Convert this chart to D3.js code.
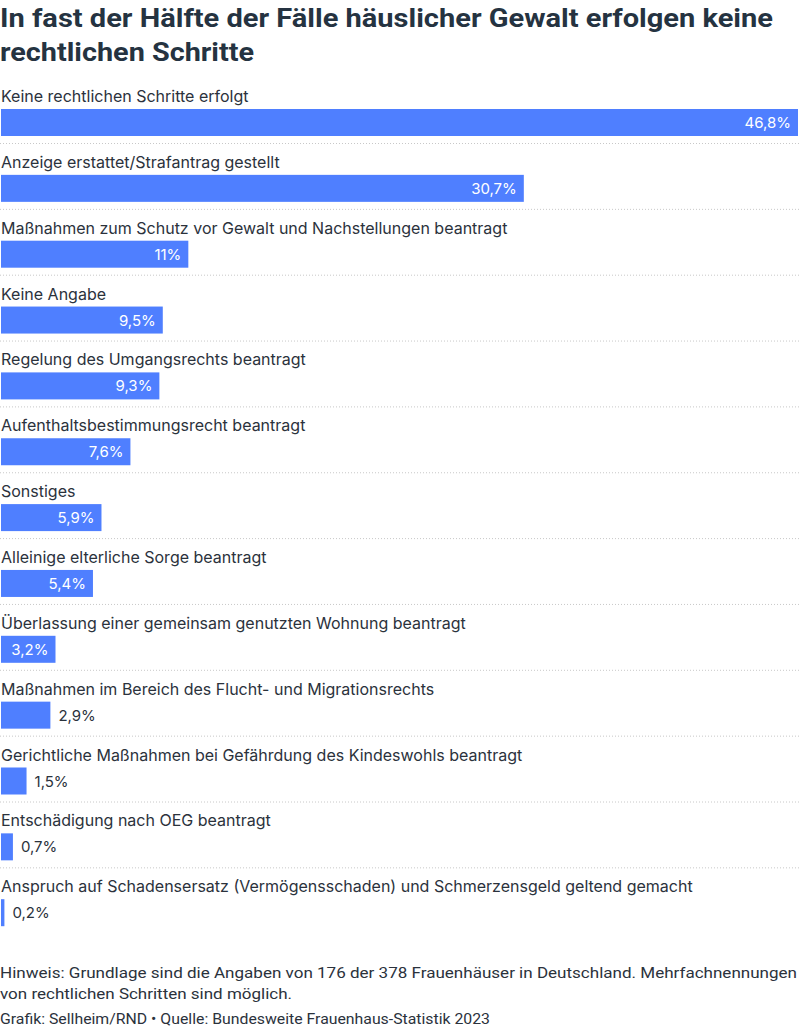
<!DOCTYPE html>
<html><head><meta charset="utf-8">
<script src="https://cdn.jsdelivr.net/npm/d3@7"></script>
<style>
html,body{margin:0;padding:0;background:#fff;}
svg{display:block;}
</style></head>
<body><svg id="chart" width="800" height="1029"></svg>
<script>
const titleLines = ["In fast der Hälfte der Fälle häuslicher Gewalt erfolgen keine", "rechtlichen Schritte"];
const categories = [
  "Keine rechtlichen Schritte erfolgt",
  "Anzeige erstattet/Strafantrag gestellt",
  "Maßnahmen zum Schutz vor Gewalt und Nachstellungen beantragt",
  "Keine Angabe",
  "Regelung des Umgangsrechts beantragt",
  "Aufenthaltsbestimmungsrecht beantragt",
  "Sonstiges",
  "Alleinige elterliche Sorge beantragt",
  "Überlassung einer gemeinsam genutzten Wohnung beantragt",
  "Maßnahmen im Bereich des Flucht- und Migrationsrechts",
  "Gerichtliche Maßnahmen bei Gefährdung des Kindeswohls beantragt",
  "Entschädigung nach OEG beantragt",
  "Anspruch auf Schadensersatz (Vermögensschaden) und Schmerzensgeld geltend gemacht"
];
const values = [46.8, 30.7, 11, 9.5, 9.3, 7.6, 5.9, 5.4, 3.2, 2.9, 1.5, 0.7, 0.2];
const footnoteLines = ["Hinweis: Grundlage sind die Angaben von 176 der 378 Frauenhäuser in Deutschland. Mehrfachnennungen", "von rechtlichen Schritten sind möglich."];
const sourceLine = "Grafik: Sellheim/RND • Quelle: Bundesweite Frauenhaus-Statistik 2023";

const svg = d3.select("#chart");
const W = 800;
const fmt = v => String(v).replace(".", ",") + "%";

// title
const title = svg.append("g").attr("fill", "#253341")
  .style("font-family", "Roboto, sans-serif").style("font-weight", 700).style("font-size", "26px");
title.append("text").attr("x", 0).attr("y", 27).text(titleLines[0])
  .attr("textLength", 773).attr("lengthAdjust", "spacingAndGlyphs");
title.append("text").attr("x", 0).attr("y", 61).text(titleLines[1])
  .attr("textLength", 254).attr("lengthAdjust", "spacingAndGlyphs");

// scales
const rowStart = 80, rowH = 65.85;
const y = d3.scaleBand().domain(categories).range([rowStart, rowStart + rowH * categories.length]).padding(0);
const x = d3.scaleLinear().domain([0, d3.max(values)]).range([1, 798]);

const data = categories.map((c, i) => ({c, v: values[i]}));
const rows = svg.append("g").selectAll("g").data(data).join("g")
  .attr("transform", d => `translate(0,${y(d.c)})`);

rows.append("text").attr("x", 1).attr("y", 22)
  .attr("fill", "#2b323c")
  .style("font-family", "Inter, sans-serif").style("font-size", "16px")
  .text(d => d.c);

rows.append("rect").attr("x", x(0)).attr("y", 29)
  .attr("width", d => Math.max(3, x(d.v) - x(0))).attr("height", 27)
  .attr("fill", "#4f7fff");

rows.append("text")
  .attr("y", 48)
  .style("font-family", "Inter, sans-serif").style("font-size", "15px")
  .each(function(d) {
    const inside = d.v >= 3;
    const t = d3.select(this);
    if (inside) {
      t.attr("x", x(d.v) - 7).attr("text-anchor", "end").attr("fill", "#ffffff");
    } else {
      t.attr("x", Math.max(x(0) + 3, x(d.v)) + 8).attr("text-anchor", "start").attr("fill", "#2b323c");
    }
  })
  .text(d => fmt(d.v));

rows.filter((d, i) => i < data.length - 1).append("line")
  .attr("x1", 0).attr("x2", W).attr("y1", 63.5).attr("y2", 63.5)
  .attr("stroke", "#c8c8c8").attr("stroke-width", 1).attr("stroke-dasharray", "1,2");

// footer
const foot = svg.append("g").attr("fill", "#2b323c")
  .style("font-family", "Roboto, sans-serif").style("font-size", "15px");
foot.append("text").attr("x", 0).attr("y", 978).text(footnoteLines[0])
  .attr("textLength", 797).attr("lengthAdjust", "spacingAndGlyphs");
foot.append("text").attr("x", 0).attr("y", 999).text(footnoteLines[1])
  .attr("textLength", 292).attr("lengthAdjust", "spacingAndGlyphs");
foot.append("text").attr("x", 0).attr("y", 1024).text(sourceLine)
  .attr("textLength", 490).attr("lengthAdjust", "spacingAndGlyphs");
</script></body></html>
